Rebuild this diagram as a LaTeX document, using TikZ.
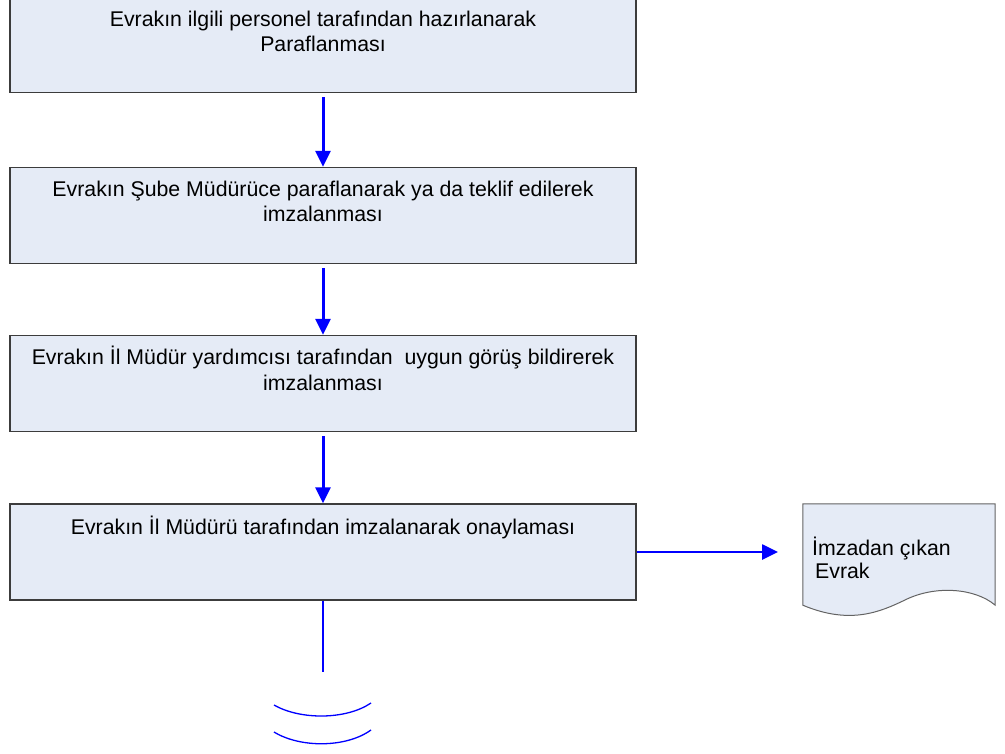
\documentclass[tikz,border=0pt]{standalone}
\usepackage{fontspec}
\setmainfont{Liberation Sans}
\usetikzlibrary{arrows.meta}
\definecolor{boxfill}{RGB}{229,235,246}
\definecolor{boxline}{RGB}{60,60,60}
\definecolor{flowblue}{RGB}{0,0,255}
\tikzset{
  procbox/.style={draw=boxline, line width=1.4pt, fill=boxfill, minimum width=626pt, minimum height=96pt, inner sep=0pt},
  boxtext/.style={anchor=base, inner sep=0pt, font=\fontsize{21.3}{25}\selectfont},
  flowarrow/.style={draw=flowblue, line width=3pt, -{Triangle[length=16pt,width=15pt]}, shorten <=4pt},
  sidearrow/.style={draw=flowblue, line width=2.6pt, -{Triangle[length=16pt,width=15pt]}},
  thinblue/.style={draw=flowblue, line width=1.3pt}
}
\begin{document}
\begin{tikzpicture}[x=1pt,y=-1pt]
\useasboundingbox (0,0) rectangle (1005,754);
% boxes
\node[procbox] (b1) at (323,44.5) {};
\node[procbox] (b2) at (323,215.5) {};
\node[procbox] (b3) at (323,383.5) {};
\node[procbox] (b4) at (323,552) {};
% texts
\node[boxtext] (t1) at (323,26.5) {\begin{tabular}[t]{@{}c@{}}Evrakın ilgili personel tarafından hazırlanarak\\Paraflanması\end{tabular}};
\node[boxtext] (t2) at (323,197) {\begin{tabular}[t]{@{}c@{}}Evrakın Şube Müdürüce paraflanarak ya da teklif edilerek\\imzalanması\end{tabular}};
\node[boxtext] (t3) at (323,365) {\begin{tabular}[t]{@{}c@{}}Evrakın İl Müdür yardımcısı tarafından\ \ uygun görüş bildirerek\\imzalanması\end{tabular}};
\node[boxtext] (t4) at (323,534) {Evrakın İl Müdürü tarafından imzalanarak onaylaması};
% arrows
\draw[flowarrow] (b1.south) -- (b2.north);
\draw[flowarrow] (b2.south) -- (b3.north);
\draw[flowarrow] (b3.south) -- (b4.north);
% document shape
\node[inner sep=0pt, minimum width=192pt, minimum height=101pt] (doc) at (899,554.5) {};
\draw[draw=boxline!80, line width=1pt, fill=boxfill]
  (doc.north west) -- (doc.north east) -- (doc.south east)
  .. controls (975,588) and (935,585) .. (905,600)
  .. controls (880,612) and (850,625) .. (doc.south west) -- cycle;
\node[anchor=base west, inner sep=0pt, font=\fontsize{21.3}{25}\selectfont] (d1) at (812,555) {İmzadan çıkan};
\node[anchor=base west, inner sep=0pt, font=\fontsize{21.3}{25}\selectfont] (d2) at (815,578) {Evrak};
\coordinate (tip) at (778,552);
\draw[sidearrow] (b4.east) -- (tip);
% bottom line and arcs
\coordinate (lend) at (323,672);
\draw[thinblue] (b4.south) -- (lend);
\draw[thinblue] (274,705) .. controls (300,720) and (346,720) .. (371,703);
\draw[thinblue] (274,732) .. controls (300,748) and (346,748) .. (371,730);
\end{tikzpicture}
\end{document}
